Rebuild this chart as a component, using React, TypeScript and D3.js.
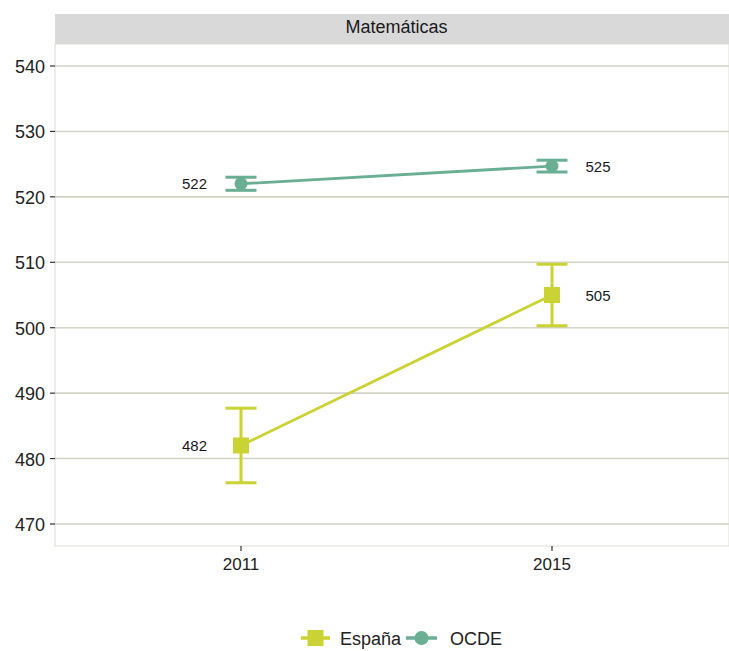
import React from "react";
import * as d3 from "d3";

const years = [2011, 2015];
const espana = [482, 505];
const espanaErr = [5.7, 4.7];
const ocde = [522, 524.7];
const ocdeErr = [1.0, 0.9];
const yTicks = [470, 480, 490, 500, 510, 520, 530, 540];
const facetTitle = "Matemáticas";
const seriesNames = ["España", "OCDE"];

const C_ES = "#cbd233";
const C_OC = "#6aae93";
const GRID = "#d3d3c6";

export default function App() {
  const W = 729, H = 651;
  const pL = 55, pR = 729, pT = 44, pB = 546;
  const y = d3.scaleLinear().domain([470, 540]).range([524, 66]);
  const x = d3.scaleLinear().domain([2011, 2015]).range([241, 552]);
  const line = d3.line<number>().x((_, i) => x(years[i])).y((d) => y(d));
  const font = "Liberation Sans, Arial, sans-serif";
  const capHalf = 15.5;

  const series = [
    { name: seriesNames[0], vals: espana, err: espanaErr, color: C_ES, shape: "square" },
    { name: seriesNames[1], vals: ocde, err: ocdeErr, color: C_OC, shape: "circle" },
  ];

  return (
    <svg width={W} height={H} style={{ position: "absolute", left: 0, top: 0, background: "#fff" }} fontFamily={font}>
      <rect x={0} y={0} width={W} height={H} fill="#fff" />
      {/* strip */}
      <rect x={pL} y={14} width={pR - pL} height={pT - 14} fill="#d9d9d9" />
      <text x={396.5} y={33} textAnchor="middle" fontSize={18} fill="#1a1a1a">{facetTitle}</text>
      {/* panel */}
      <rect x={pL} y={pT} width={pR - pL} height={pB - pT} fill="#fff" stroke="#dcdcd4" strokeWidth={1} />
      {yTicks.map((t) => (
        <g key={t}>
          <line x1={pL} x2={pR} y1={y(t)} y2={y(t)} stroke={GRID} strokeWidth={1.6} />
          <line x1={50} x2={pL} y1={y(t)} y2={y(t)} stroke="#333" strokeWidth={1.2} />
          <text x={45} y={y(t) + 7} textAnchor="end" fontSize={18} fill="#222">{t}</text>
        </g>
      ))}
      {years.map((yr) => (
        <g key={yr}>
          <line x1={x(yr)} x2={x(yr)} y1={pB} y2={pB + 5} stroke="#333" strokeWidth={1.2} />
          <text x={x(yr)} y={570} textAnchor="middle" fontSize={17} fill="#222">{yr}</text>
        </g>
      ))}
      {series.map((s) => (
        <g key={s.name}>
          <path d={line(s.vals) || ""} fill="none" stroke={s.color} strokeWidth={2.8} />
          {s.vals.map((v, i) => {
            const cx = x(years[i]);
            const top = y(v + s.err[i]);
            const bot = y(v - s.err[i]);
            return (
              <g key={i}>
                <line x1={cx} x2={cx} y1={top} y2={bot} stroke={s.color} strokeWidth={3} />
                <line x1={cx - capHalf} x2={cx + capHalf} y1={top} y2={top} stroke={s.color} strokeWidth={3} />
                <line x1={cx - capHalf} x2={cx + capHalf} y1={bot} y2={bot} stroke={s.color} strokeWidth={3} />
                {s.shape === "square" ? (
                  <rect x={cx - 8} y={y(v) - 8} width={16} height={16} fill={s.color} />
                ) : (
                  <circle cx={cx} cy={y(v)} r={6.5} fill={s.color} />
                )}
                <text x={cx + (i === 0 ? -46.5 : 46)} y={y(v) + 5.5} textAnchor="middle" fontSize={15} fill="#1a1a1a">
                  {Math.round(v)}
                </text>
              </g>
            );
          })}
        </g>
      ))}
      {/* legend */}
      <g>
        <line x1={301} x2={330} y1={638} y2={638} stroke={C_ES} strokeWidth={3.5} />
        <rect x={307.5} y={630} width={16} height={16} fill={C_ES} />
        <text x={340} y={645} fontSize={18} fill="#222">{seriesNames[0]}</text>
        <line x1={406} x2={437} y1={638} y2={638} stroke={C_OC} strokeWidth={3.5} />
        <circle cx={421.5} cy={638} r={7} fill={C_OC} />
        <text x={450} y={645} fontSize={18} fill="#222">{seriesNames[1]}</text>
      </g>
    </svg>
  );
}
